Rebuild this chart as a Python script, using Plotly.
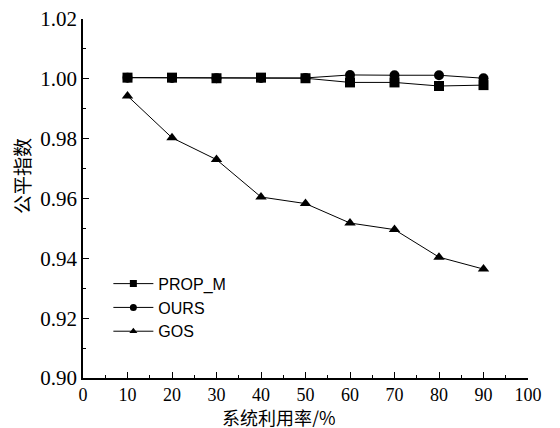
import plotly.graph_objects as go

x = [10, 20, 30, 40, 50, 60, 70, 80, 90]
prop_m = [1.0004, 1.0004, 1.0002, 1.0004, 1.0002, 0.9988, 0.9988, 0.9976, 0.9979]
ours = [1.0004, 1.0003, 1.0002, 1.0003, 1.0003, 1.0013, 1.0012, 1.0012, 1.0002]
gos = [0.9943, 0.9803, 0.9730, 0.9605, 0.9583, 0.9518, 0.9496, 0.9404, 0.9364]

series = [("PROP_M", prop_m, "square"), ("OURS", ours, "circle"), ("GOS", gos, "triangle-up")]

fig = go.Figure()
for name, ys, sym in series:
    fig.add_trace(go.Scatter(
        x=x, y=ys, name=name, mode="lines+markers", showlegend=False,
        line=dict(color="black", width=1),
        marker=dict(symbol=sym, size=10, color="black"),
    ))
# legend entries (smaller markers, as in the reference legend)
for name, ys, sym in series:
    fig.add_trace(go.Scatter(
        x=[None], y=[None], name=name, mode="lines+markers",
        line=dict(color="black", width=1),
        marker=dict(symbol=sym, size=7, color="black"),
    ))

ytickfont = dict(family="Liberation Serif, Times New Roman, serif", size=21, color="black")
xtickfont = dict(family="Liberation Serif, Times New Roman, serif", size=18, color="black")
titlefont = dict(family="Noto Sans CJK SC, sans-serif", size=19, color="black")

fig.update_layout(
    width=560, height=428,
    margin=dict(l=83, r=32, t=19, b=50, autoexpand=False),
    paper_bgcolor="white", plot_bgcolor="white",
    showlegend=True,
    legend=dict(x=0.057, y=0.31, xanchor="left", yanchor="top",
                font=dict(family="Liberation Sans, Arial, sans-serif", size=16, color="black"),
                bgcolor="rgba(0,0,0,0)", itemwidth=40, tracegroupgap=0),
    xaxis=dict(range=[0, 100], tickvals=list(range(0, 101, 10)),
               showline=True, linecolor="black", linewidth=1.5, mirror=False,
               ticks="inside", ticklen=6, tickcolor="black", automargin=False,
               minor=dict(ticks="inside", ticklen=3, dtick=5, tickcolor="black"),
               showgrid=False, zeroline=False, tickfont=xtickfont),
    yaxis=dict(range=[0.90, 1.02], tickvals=[0.90, 0.92, 0.94, 0.96, 0.98, 1.00, 1.02],
               ticktext=["0.90", "0.92", "0.94", "0.96", "0.98", "1.00", "1.02"],
               showline=True, linecolor="black", linewidth=1.5, mirror=False,
               ticks="inside", ticklen=6, tickcolor="black", automargin=False,
               minor=dict(ticks="inside", ticklen=3, dtick=0.01, tickcolor="black"),
               showgrid=False, zeroline=False, tickfont=ytickfont),
    annotations=[
        dict(text="系统利用率/%", xref="paper", yref="paper", x=0.44, y=-0.106,
             xanchor="center", yanchor="middle", showarrow=False, height=21,
             font=dict(family="Noto Sans CJK SC, sans-serif", size=18, color="black")),
        dict(text="公平指数", xref="paper", yref="paper", x=-0.137, y=0.563,
             xanchor="center", yanchor="middle", showarrow=False, textangle=-90, font=titlefont),
    ],
)

fig.write_html("out.html", config={"displayModeBar": False},
               post_script="document.body.style.margin='0px';document.body.style.overflow='hidden';")
